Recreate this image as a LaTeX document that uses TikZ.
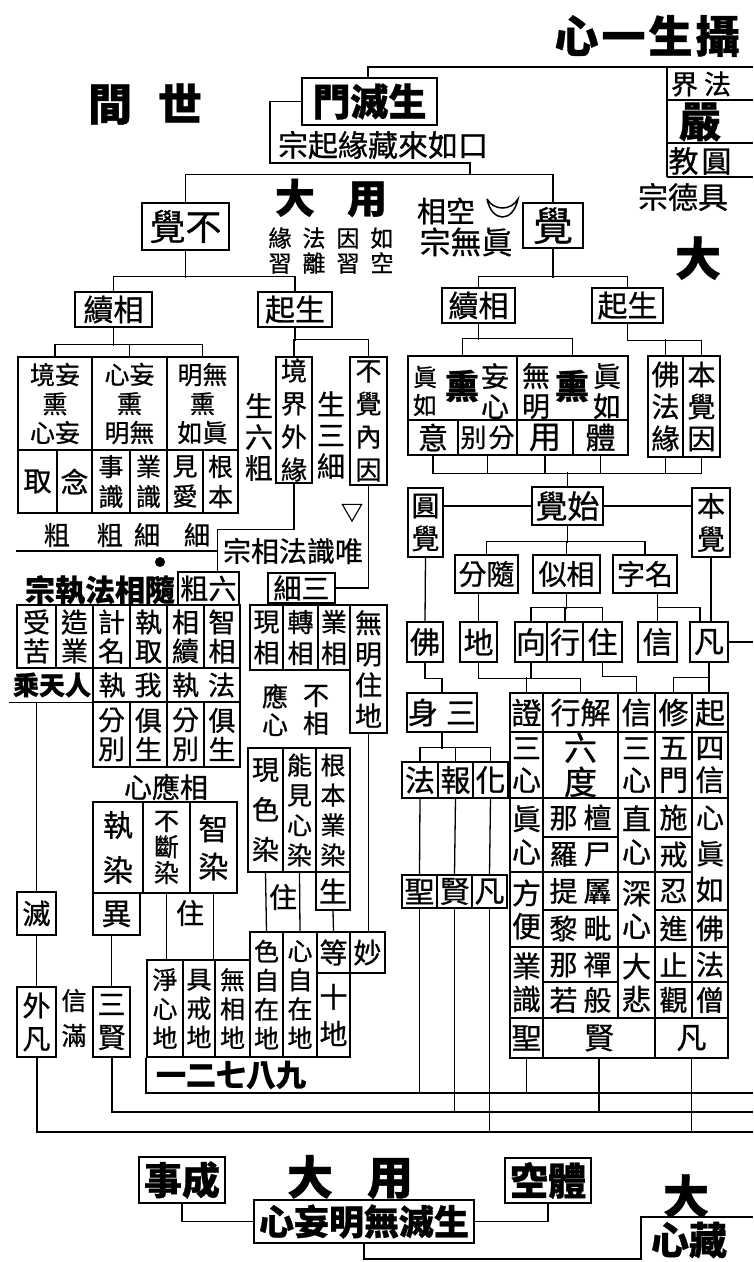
\documentclass[tikz,border=0pt]{standalone}
\usepackage{fontspec}
\setmainfont{Noto Sans CJK TC}[FakeBold=0.8]
\usepackage{tikz}
\newcommand{\tcell}[7][]{\node[Cell,minimum width={#5-#3},minimum height={#6-#4},#1] (#2) at ({(#3+#5)/2},{(#4+#6)/2}) {#7};}

\begin{document}
\begin{tikzpicture}
    [x=1pt, y=-1pt, line width=1.3pt,
     Cell/.style={rectangle, draw=black, line width=1.3pt, inner sep=0pt, align=center},
     Txt/.style={inner sep=0pt, align=center},
     Heavy/.style={line width=2.2pt},
     F/.style 2 args={font=\fontsize{#1}{#2}\selectfont}]
    \useasboundingbox (0,0) rectangle (753,1262);

    % top
    \node[Txt,F={44}{44}] (TTitle) at (647,36) {\bfseries 心\hspace{3pt}一\hspace{3pt}生\hspace{3pt}攝};
    \node[Txt,F={44}{44}] (TWorld) at (145,104) {\bfseries 間\hspace{26pt}世};
    \tcell[Heavy,F={38}{38}]{TMen}{302}{78}{437}{125}{\bfseries 門滅生}
    \draw[line width=2pt] (TMen.north -| 368,0) -- (368,67) -- (753,67);
    \draw (667,67) -- (667,177);
    \draw (667,100) -- (753,100);
    \draw (667,143) -- (753,143);
    \draw (667,177) -- (753,177);
    \node[Txt,F={27}{27}] (TFaJie) at (701,84) {界\hspace{6pt}法};
    \node[Txt,F={42}{42}] (TYan) at (700,122) {\bfseries 嚴};
    \node[Txt,F={30}{30}] (TYuan) at (700,161) {教\hspace{3pt}圓};
    \node[Txt,F={30}{30}] (TJuDe) at (683,197) {宗德具};
    \node[Txt,F={46}{46}] (TDa) at (698,258) {\bfseries 大};

    \node[Txt,F={30}{30}] (TZong) at (383,145) {宗起緣藏來如口};
    \coordinate (TBrL) at (270,163);
    \coordinate (TBrR) at (470,163);
    \draw (TMen.west) -| (TBrL) -- (TBrR) -- ++(0,12);

    \tcell[F={36}{36}]{LJue}{142}{203}{229}{250}{覺不}
    \tcell[F={40}{40}]{RJue}{523}{203}{583}{248}{覺}
    \draw (LJue.north) -- ++(0,-28) -| (RJue.north);

    \node[Txt,F={40}{40}] (TDaYong) at (331,198) {\bfseries 大\hspace{32pt}用};
    \node[Txt,F={23}{23}] (TYinYuan) at (331,238) {緣\hspace{11pt}法\hspace{11pt}因\hspace{11pt}如};
    \node[Txt,F={23}{23}] (TXi) at (331,263) {習\hspace{11pt}離\hspace{11pt}習\hspace{11pt}空};
    \node[Txt,F={29}{29}] (TKong) at (446,211) {相空};
    \draw[line width=1.5pt] (487,199) .. controls (492,223) and (513,223) .. (518,199) .. controls (511,211) and (494,211) .. (487,199);
    \node[Txt,F={31}{31}] (TWu) at (466,242) {宗無眞};

    % left: 不覺
    \tcell[F={30}{30}]{LXu}{75}{292}{152}{327}{續相}
    \tcell[F={30}{30}]{LSheng}{258}{292}{332}{327}{起生}
    \draw (LJue.south) -- ++(0,27);
    \draw (LXu.north) -- ++(0,-15) -| (LSheng.north);

    \tcell[F={25}{29}]{LU1}{18}{357}{92}{450}{境妄\\熏\\心妄}
    \tcell[F={25}{29}]{LU2}{92}{357}{167}{450}{心妄\\熏\\明無}
    \tcell[F={25}{29}]{LU3}{167}{357}{238}{450}{明無\\熏\\如眞}
    \draw (LXu.south) -- ++(0,18);
    \draw (LU1.north) -- ++(0,-12) -| (LU3.north);
    \draw (LU2.north) -- ++(0,-12);
    \tcell[F={28}{28}]{LB1}{18}{450}{57}{513}{取}
    \tcell[F={28}{28}]{LB2}{57}{450}{92}{513}{念}
    \tcell[F={25}{30}]{LB3}{92}{450}{130}{513}{事\\識}
    \tcell[F={25}{30}]{LB4}{130}{450}{167}{513}{業\\識}
    \tcell[F={25}{30}]{LB5}{167}{450}{203}{513}{見\\愛}
    \tcell[F={25}{30}]{LB6}{203}{450}{238}{513}{根\\本}
    \node[Txt,F={26}{26}] (LCu) at (127,535) {粗\hspace{27pt}粗\hspace{11pt}細\hspace{24pt}細};

    \tcell[F={26}{33}]{LJing}{276}{357}{312}{483}{境\\界\\外\\緣}
    \tcell[F={26}{33}]{LBuJue}{350}{357}{387}{485}{不\\覺\\內\\因}
    \draw (LSheng.south) -- ++(0,13);
    \draw (LJing.north) -- ++(0,-17) -| (LBuJue.north);
    \node[Txt,F={28}{31}] (LLiu) at (259,437) {生\\六\\粗};
    \node[Txt,F={28}{31}] (LSan) at (331,435) {生\\三\\細};
    \node[Txt,F={22}{22}] (LTri) at (352,513) {▽};

    \node[Txt,F={28}{28},minimum width=150,minimum height=42] (LWei) at (293,551) {宗相法識唯};
    \draw (LJing.south) |- (LWei.north west) -- (LWei.south west);
    \draw (LWei.west) -- ++(-201,0);
    \node[circle,fill,inner sep=0pt,minimum size=10pt] (LDot) at (160,562) {};
    \node[Txt,F={30}{30}] (LSui) at (100,590) {\bfseries 宗執法相隨};
    \tcell[F={28}{28}]{LCuLiu}{178}{572}{239}{605}{粗六}

    \tcell[Heavy,F={27}{29}]{LK1}{17}{605}{56}{668}{受\\苦}
    \tcell[Heavy,F={27}{29}]{LK2}{56}{605}{93}{668}{造\\業}
    \tcell[F={27}{29}]{LK3}{93}{605}{130}{668}{計\\名}
    \tcell[F={27}{29}]{LK4}{130}{605}{167}{668}{執\\取}
    \tcell[F={27}{29}]{LK5}{167}{605}{204}{668}{相\\續}
    \tcell[F={27}{29}]{LK6}{204}{605}{240}{668}{智\\相}
    \node[Txt,F={26}{26}] (LRen) at (52,685) {\bfseries 乘天人};
    \tcell[F={27}{27}]{LWo}{93}{668}{167}{702}{執\hspace{9pt}我}
    \tcell[F={27}{27}]{LFa}{167}{668}{240}{702}{執\hspace{9pt}法}
    \draw (LWo.south west) -- ++(-83,0);
    \tcell[F={27}{29}]{LF1}{93}{702}{130}{767}{分\\別}
    \tcell[F={27}{29}]{LF2}{130}{702}{167}{767}{俱\\生}
    \tcell[F={27}{29}]{LF3}{167}{702}{204}{767}{分\\別}
    \tcell[F={27}{29}]{LF4}{204}{702}{240}{767}{俱\\生}
    \node[Txt,F={28}{28}] (LXin) at (166,787) {心應相};
    \tcell[F={30}{45}]{LR1}{93}{802}{143}{893}{執\\染}
    \tcell[F={25}{26}]{LR2}{143}{802}{190}{893}{不\\斷\\染}
    \tcell[F={30}{38}]{LR3}{190}{802}{237}{893}{智\\染}
    \tcell[F={30}{30}]{LYi}{93}{893}{140}{935}{異}
    \node[Txt,F={28}{28}] (LZhu) at (190,913) {住};

    \tcell[F={28}{28}]{LMie}{17}{892}{56}{935}{滅}
    \draw (LMie.north) -- (LMie.north |- LWo.south);
    \tcell[F={28}{33}]{LWai}{17}{987}{56}{1057}{外\\凡}
    \draw (LMie.south) -- (LWai.north);
    \node[Txt,F={25}{35}] (LXinMan) at (74,1018) {信\\滿};
    \tcell[F={28}{33}]{LXian}{93}{987}{130}{1057}{三\\賢}
    \draw (LYi.south -| LXian.north) -- (LXian.north);

    % middle: 三細 and the grounds
    \tcell[F={28}{28}]{MXi}{268}{573}{335}{603}{細三}
    \draw (LBuJue.south) |- (MXi.east);
    \tcell[F={26}{31}]{MX1}{250}{605}{283}{670}{現\\相}
    \tcell[F={26}{31}]{MX2}{283}{605}{318}{670}{轉\\相}
    \tcell[F={26}{31}]{MX3}{318}{605}{350}{670}{業\\相}
    \tcell[F={27}{31}]{MWu}{350}{605}{387}{733}{無\\明\\住\\地}
    \node[Txt,F={26}{28}] (MYing) at (275,710) {應\\心};
    \node[Txt,F={26}{28}] (MBu) at (316,710) {不\\相};
    \tcell[F={27}{40}]{MS1}{248}{748}{283}{872}{現\\色\\染}
    \tcell[F={25}{30}]{MS2}{283}{748}{316}{872}{能\\見\\心\\染}
    \tcell[F={25}{30}]{MS3}{316}{748}{350}{872}{根\\本\\業\\染}
    \node[Txt,F={28}{28}] (MZhu) at (283,897) {住};
    \tcell[F={28}{28}]{MSheng}{316}{872}{350}{910}{生}
    \tcell[F={25}{29}]{MD1}{250}{932}{283}{1057}{色\\自\\在\\地}
    \tcell[F={25}{29}]{MD2}{283}{932}{317}{1057}{心\\自\\在\\地}
    \tcell[F={28}{28}]{MDeng}{317}{932}{350}{973}{等}
    \tcell[F={28}{37}]{MShi}{317}{973}{350}{1057}{十\\地}
    \tcell[F={28}{28}]{MMiao}{350}{932}{385}{973}{妙}
    \draw (MS1.south) -- (MD1.north);
    \draw (MS2.south) -- (MD2.north);
    \draw (MSheng.south) -- (MDeng.north);
    \draw (MWu.south) -- (MWu.south |- MMiao.north);
    \tcell[F={25}{29}]{MJ1}{147}{960}{183}{1057}{淨\\心\\地}
    \tcell[F={25}{29}]{MJ2}{183}{960}{215}{1057}{具\\戒\\地}
    \tcell[F={25}{29}]{MJ3}{215}{960}{250}{1057}{無\\相\\地}
    \draw (LR2.south) -- (LR2.south |- MJ1.north);
    \draw (LR3.south) -- (LR3.south |- MJ1.north);
    \node[Txt,F={30}{30}] (MNine) at (231,1075) {\bfseries 一二七八九};

    \coordinate (BL1) at (753,1093);
    \coordinate (BL2) at (753,1112);
    \coordinate (BL3) at (753,1132);
    \draw[line width=2pt] (MJ1.south west) |- (BL1);
    \draw[line width=2pt] (LXian.south) |- (BL2);
    \draw[line width=2pt] (LWai.south) |- (BL3);

    % right: 覺
    \tcell[F={30}{30}]{RXu}{442}{288}{515}{323}{續相}
    \tcell[F={30}{30}]{RSheng}{592}{288}{663}{323}{起生}
    \draw (RJue.south) -- ++(0,29);
    \draw (RXu.north) -- ++(0,-11) -| (RSheng.north);
    \tcell{RU1}{408}{356}{517}{420}{}
    \tcell{RU2}{517}{356}{628}{420}{}
    \node[Txt,F={24}{28}] (RZhen1) at (425,391) {眞\\如};
    \node[Txt,F={34}{34}] (RXun1) at (462,386) {\bfseries 熏};
    \node[Txt,F={28}{30}] (RWang) at (495,391) {妄\\心};
    \node[Txt,F={28}{30}] (RWuMing) at (536,391) {無\\明};
    \node[Txt,F={34}{34}] (RXun2) at (572,386) {\bfseries 熏};
    \node[Txt,F={28}{30}] (RZhen2) at (607,391) {眞\\如};
    \draw (RXu.south) -- ++(0,16);
    \draw (RU1.north) -- ++(0,-17) -| (RU2.north);
    \tcell[F={30}{30}]{RL1}{408}{420}{458}{455}{意}
    \tcell[F={26}{26}]{RL2}{458}{420}{517}{455}{别\hspace{2pt}分}
    \tcell[F={32}{32}]{RL3}{517}{420}{573}{455}{用}
    \tcell[F={30}{30}]{RL4}{573}{420}{628}{455}{體}
    \tcell[F={28}{32}]{RFo}{648}{356}{683}{457}{佛\\法\\緣}
    \tcell[F={28}{32}]{RBen}{683}{356}{720}{457}{本\\覺\\因}
    \draw (RSheng.south) -- ++(0,17) -| (RBen.north);
    \draw (RFo.north) -- ++(0,-16);
    \tcell[F={32}{32}]{RShi}{532}{487}{603}{525}{覺始}
    \draw (RL1.south) -- ++(0,18) -| (RBen.south);
    \draw (RL2.south) -- ++(0,18);
    \draw (RL3.south) -- ++(0,18);
    \draw (RL4.south) -- ++(0,18);
    \draw (RFo.south) -- ++(0,16);
    \draw (RShi.north) -- ++(0,-14);

    \tcell[F={28}{33}]{RYuan}{408}{488}{443}{557}{圓\\覺}
    \tcell[F={28}{33}]{RBenJue}{692}{488}{730}{557}{本\\覺}
    \draw (RShi.west) -- (RShi.west -| RYuan.east);
    \draw (RShi.east) -- (RShi.east -| RBenJue.west);
    \tcell[F={28}{28}]{RSui}{455}{555}{518}{593}{分隨}
    \tcell[F={28}{28}]{RSi}{533}{555}{600}{593}{似相}
    \tcell[F={28}{28}]{RMing}{613}{555}{677}{593}{字名}
    \draw (RShi.south) -- ++(0,17);
    \draw (RSui.north) -- ++(0,-13) -| (RMing.north);
    \draw (RSi.north) -- ++(0,-13);

    \tcell[F={30}{30}]{RFo2}{407}{622}{443}{662}{佛}
    \tcell[F={30}{30}]{RDi}{460}{622}{497}{662}{地}
    \tcell[F={30}{30}]{RXiang}{515}{622}{547}{662}{向}
    \tcell[F={30}{30}]{RXing}{547}{622}{583}{662}{行}
    \tcell[F={30}{30}]{RZhu}{583}{622}{622}{662}{住}
    \tcell[F={30}{30}]{RXin}{638}{622}{677}{662}{信}
    \tcell[F={30}{30}]{RFan}{690}{622}{728}{662}{凡}
    \draw (RYuan.south) -- (RFo2.north);
    \draw (RBenJue.south) -- (RBenJue.south |- RFan.north);
    \draw (RDi.north) -- (RDi.north |- RSui.south);
    \draw (RSi.south) -- ++(0,15);
    \draw (RXiang.north) -- ++(0,-14) -| (RZhu.north);
    \draw (RXing.north) -- ++(0,-14);
    \draw (RXin.north) -- (RXin.north |- RMing.south);
    \draw (RXin.north) -- ++(0,-14) -| (RFan.north -| 700,0);
    \coordinate (RFanE) at (753,642);
    \draw (RFan.east) -- (RFanE);

    \tcell[F={30}{30}]{RT1}{510}{693}{543}{732}{證}
    \tcell[F={30}{30}]{RT2}{543}{693}{618}{732}{行解}
    \tcell[F={30}{30}]{RT3}{618}{693}{655}{732}{信}
    \tcell[F={30}{30}]{RT4}{655}{693}{692}{732}{修}
    \tcell[F={30}{30}]{RT5}{692}{693}{728}{732}{起}
    \tcell[F={29}{32}]{RS1}{510}{732}{543}{798}{三\\心}
    \tcell[F={33}{34}]{RS2}{543}{732}{618}{798}{六\\度}
    \tcell[F={29}{32}]{RS3}{618}{732}{655}{798}{三\\心}
    \tcell[F={29}{32}]{RS4}{655}{732}{692}{798}{五\\門}
    \tcell[F={29}{32}]{RS5}{692}{732}{728}{798}{四\\信}
    \tcell[F={29}{33}]{RC1}{510}{798}{543}{872}{眞\\心}
    \tcell[F={29}{33}]{RC2}{510}{872}{543}{947}{方\\便}
    \tcell[F={29}{33}]{RC3}{510}{947}{543}{1018}{業\\識}
    \tcell[F={30}{30}]{RSheng2}{510}{1018}{543}{1058}{聖}
    \tcell[F={28}{28}]{RN1}{543}{798}{618}{837}{那\hspace{6pt}檀}
    \tcell[F={28}{28}]{RN2}{543}{837}{618}{872}{羅\hspace{6pt}尸}
    \tcell[F={28}{28}]{RN3}{543}{872}{618}{910}{提\hspace{6pt}羼}
    \tcell[F={28}{28}]{RN4}{543}{910}{618}{947}{黎\hspace{6pt}毗}
    \tcell[F={28}{28}]{RN5}{543}{947}{618}{982}{那\hspace{6pt}禪}
    \tcell[F={28}{28}]{RN6}{543}{982}{618}{1018}{若\hspace{6pt}般}
    \tcell[F={30}{30}]{RXian2}{543}{1018}{655}{1058}{賢}
    \tcell[F={29}{33}]{RD1}{618}{798}{655}{872}{直\\心}
    \tcell[F={29}{33}]{RD2}{618}{872}{655}{947}{深\\心}
    \tcell[F={29}{33}]{RD3}{618}{947}{655}{1018}{大\\悲}
    \tcell[F={28}{28}]{RE1}{655}{798}{692}{837}{施}
    \tcell[F={28}{28}]{RE2}{655}{837}{692}{872}{戒}
    \tcell[F={28}{28}]{RE3}{655}{872}{692}{910}{忍}
    \tcell[F={28}{28}]{RE4}{655}{910}{692}{947}{進}
    \tcell[F={28}{28}]{RE5}{655}{947}{692}{982}{止}
    \tcell[F={28}{28}]{RE6}{655}{982}{692}{1018}{觀}
    \tcell[F={30}{30}]{RFan2}{655}{1018}{728}{1058}{凡}
    \tcell[F={28}{36}]{RG1}{692}{798}{728}{910}{心\\眞\\如}
    \tcell[F={28}{28}]{RG2}{692}{910}{728}{947}{佛}
    \tcell[F={28}{28}]{RG3}{692}{947}{728}{982}{法}
    \tcell[F={28}{28}]{RG4}{692}{982}{728}{1018}{僧}

    \tcell[F={30}{30}]{RSan}{407}{693}{477}{732}{身\hspace{8pt}三}
    \draw (RFo2.south) -- ++(0,16) -| (RSan.north);
    \draw (RDi.south) -- ++(0,16) -| (RT2.north);
    \draw (RT1.north) -- ++(0,-15);
    \draw (RXiang.south) -- ++(0,16);
    \draw (RZhu.south) -- ++(0,14) -| (RT3.north);
    \draw (RFan.south) -- ++(0,15) -| (RT4.north);
    \draw (RFan.south) -- (RFan.south |- RT5.north);

    \draw (RSan.south) -- ++(0,16);
    \tcell[F={30}{30}]{RFa}{402}{762}{438}{798}{法}
    \tcell[F={30}{30}]{RBao}{438}{762}{473}{798}{報}
    \tcell[F={30}{30}]{RHua}{473}{762}{508}{798}{化}
    \draw (RFa.north) -- ++(0,-14) -| (RHua.north);
    \draw (RBao.north) -- ++(0,-14);
    \tcell[F={30}{30}]{RP1}{402}{875}{437}{908}{聖}
    \tcell[F={30}{30}]{RP2}{437}{875}{472}{908}{賢}
    \tcell[F={30}{30}]{RP3}{472}{875}{507}{908}{凡}
    \draw (RFa.south) -- (RP1.north);
    \draw (RBao.south) -- (RP2.north);
    \draw (RHua.south) -- (RP3.north);
    \draw (RP1.south) -- (RP1.south |- BL1);
    \draw (RP2.south) -- (RP2.south |- BL2);
    \draw (RP3.south) -- (RP3.south |- BL3);
    \draw (RSheng2.south) -- (RSheng2.south |- BL1);
    \draw (RXian2.south) -- (RXian2.south |- BL2);
    \draw (RFan2.south) -- (RFan2.south |- BL3);

    % bottom
    \tcell[Heavy,F={38}{38}]{BCheng}{139}{1157}{225}{1203}{\bfseries 事成}
    \node[Txt,F={46}{46}] (BDaYong) at (350,1177) {\bfseries 大\hspace{34pt}用};
    \tcell[Heavy,F={38}{38}]{BKong}{505}{1158}{591}{1203}{\bfseries 空體}
    \node[Txt,F={46}{46}] (BDa) at (686,1196) {\bfseries 大};
    \tcell[Heavy,F={35}{35}]{BSheng}{254}{1200}{474}{1243}{\bfseries 心妄明無滅生}
    \draw (BCheng.south) |- (BSheng.west);
    \draw (BKong.south) |- (BSheng.east);
    \node[Txt,F={38}{38}] (BZang) at (689,1240) {\bfseries 心藏};
    \coordinate (BZangC) at (641,1217);
    \draw (BSheng.south) |- (BZangC |- 0,1259) -- (BZangC) -- ++(112,0);
\end{tikzpicture}
\end{document}
